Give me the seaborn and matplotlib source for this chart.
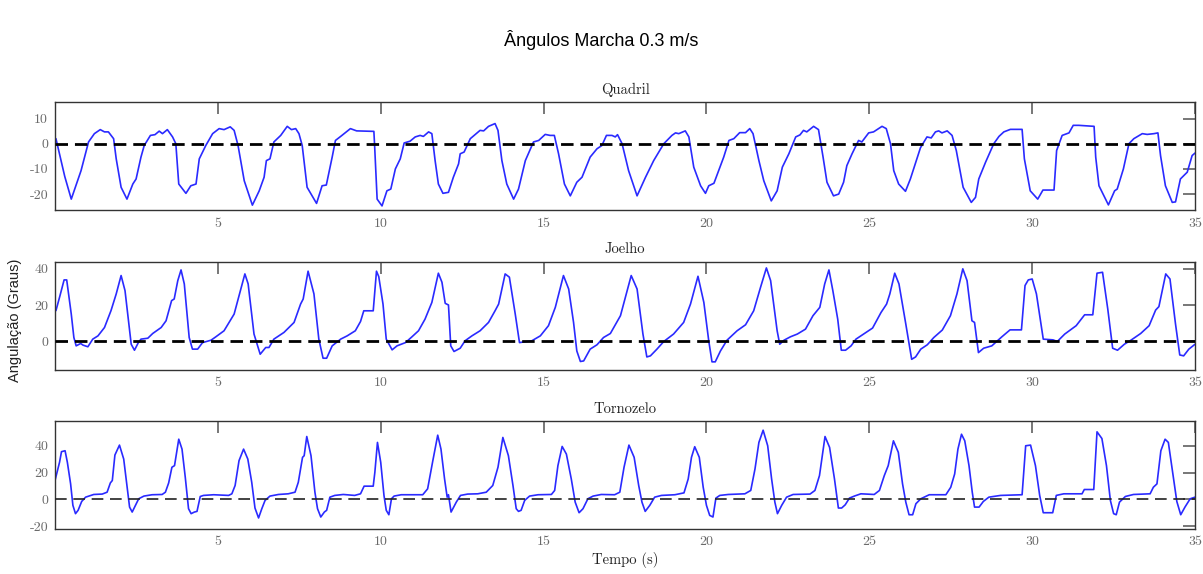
import matplotlib
matplotlib.use('Agg')
import matplotlib.pyplot as plt
import numpy as np
import pandas as pd
import seaborn as sns

# Joint angles (degrees), as (time s, angle) pairs
quadril = [(0.03, 2), (0.3, -13), (0.5, -22), (0.8, -10.7), (1.03, 0.7), (1.21, 4), (1.39, 5.6), (1.52, 4.7),
           (1.64, 4.7), (1.8, 2), (1.88, -6), (2.03, -17.3), (2.21, -22), (2.39, -16), (2.49, -14), (2.64, -5.3),
           (2.74, -0.7), (2.93, 3.3), (3.07, 3.6), (3.2, 5), (3.3, 4), (3.45, 5.6), (3.61, 2.7), (3.71, 0),
           (3.8, -16), (4.02, -19.7), (4.17, -16.7), (4.33, -16), (4.43, -6), (4.63, -0.7), (4.84, 4), (5.04, 6),
           (5.19, 5.6), (5.38, 6.7), (5.5, 5.3), (5.62, -0.7), (5.81, -14.7), (6.06, -24.4), (6.27, -18.7),
           (6.42, -13.3), (6.49, -6.7), (6.6, -6), (6.72, 0.7), (6.93, 3.3), (7.13, 6.9), (7.26, 5.6), (7.39, 6),
           (7.49, 4), (7.59, -0.7), (7.74, -17.3), (8.03, -23.7), (8.2, -16.7), (8.33, -16.4), (8.51, -5.3),
           (8.61, 1.3), (8.77, 2.9), (9.07, 6), (9.26, 5.1), (9.79, 4.9), (9.81, 0), (9.89, -22), (10.04, -24.7),
           (10.19, -18.7), (10.31, -18), (10.45, -10), (10.6, -6), (10.72, 0.3), (10.9, 1), (11.06, 2.7),
           (11.21, 3.3), (11.31, 2.9), (11.47, 4.7), (11.57, 4), (11.67, -6.7), (11.77, -16), (11.91, -19.7),
           (12.08, -19.3), (12.23, -13.3), (12.39, -8), (12.44, -4), (12.56, -3.3), (12.75, 2), (13.05, 5.3),
           (13.16, 5.1), (13.31, 6.9), (13.51, 8), (13.6, 5.3), (13.72, -6.7), (13.87, -16), (14.08, -22),
           (14.23, -18), (14.44, -6.7), (14.69, 0.7), (14.85, 1.3), (15.05, 3.7), (15.2, 3.3), (15.33, 3.3),
           (15.46, -4), (15.64, -16), (15.82, -20.7), (16.02, -15.3), (16.18, -13.3), (16.43, -5.3), (16.64, -2),
           (16.79, -0.7), (16.93, 3.3), (17.1, 3.3), (17.2, 2.7), (17.27, 3.6), (17.41, 0), (17.61, -10.7),
           (17.87, -20.7), (18.13, -13.3), (18.38, -6.7), (18.69, 0), (18.94, 3.3), (19.05, 4.3), (19.15, 4),
           (19.35, 5.1), (19.46, 2.7), (19.61, -9.3), (19.82, -16.7), (19.97, -19.7), (20.07, -16.7),
           (20.23, -15.7), (20.43, -8.7), (20.53, -5.3), (20.69, 1.3), (20.84, 2), (21.02, 4.4), (21.2, 4.4),
           (21.33, 6), (21.43, 4), (21.61, -6.7), (21.76, -14.7), (21.99, -22.7), (22.17, -18.7), (22.33, -9.3),
           (22.53, -4), (22.74, 2.7), (22.87, 3.5), (22.98, 5.3), (23.08, 4.7), (23.29, 6.9), (23.44, 5.6),
           (23.58, -5.3), (23.7, -15.3), (23.9, -20.7), (24.06, -20), (24.21, -15.3), (24.31, -8.7), (24.47, -4),
           (24.67, 1.3), (24.77, 0.7), (24.98, 4.3), (25.13, 4.7), (25.39, 6.9), (25.52, 6), (25.65, 0),
           (25.75, -10.7), (25.9, -16), (26.11, -18.9), (26.26, -14), (26.41, -8), (26.57, -1.6), (26.77, 2.7),
           (26.9, 2.3), (27.03, 4.7), (27.13, 5.1), (27.23, 4.3), (27.39, 5.1), (27.54, 3.3), (27.67, -2.7),
           (27.88, -17.3), (28.13, -23.3), (28.26, -21.3), (28.36, -14), (28.57, -7.3), (28.82, 0), (28.98, 2.9),
           (29.13, 4.7), (29.33, 5.7), (29.69, 5.7), (29.76, -6), (29.94, -18.7), (30.17, -22), (30.33, -18.4),
           (30.67, -18.4), (30.75, -2.7), (30.92, 3.3), (31.13, 4.3), (31.26, 7.3), (31.43, 7.3), (31.9, 6.9),
           (31.95, -5.3), (32.05, -16.7), (32.34, -24.3), (32.53, -18.7), (32.61, -18), (32.8, -10), (32.97, 0),
           (33.12, 2), (33.38, 4), (33.53, 3.7), (33.74, 4), (33.86, 4.3), (33.94, -4.7), (34.09, -16.7),
           (34.3, -23.3), (34.4, -23.1), (34.55, -14), (34.76, -11.3), (34.91, -4.7), (35.0, -3.7)]

joelho = [(0.03, 17), (0.14, 24.3), (0.28, 33.9), (0.36, 33.9), (0.5, 15.1), (0.58, 2.2), (0.65, -2.4),
          (0.79, -1.1), (0.86, -2), (1.01, -2.9), (1.16, 1.3), (1.32, 3.1), (1.52, 7.7), (1.72, 17), (1.88, 26.2),
          (2.03, 36.3), (2.15, 28), (2.21, 18.8), (2.34, -1.5), (2.44, -4.8), (2.56, -0.6), (2.64, 1.3),
          (2.85, 1.8), (3.0, 4.4), (3.26, 7.7), (3.41, 11.4), (3.58, 22.5), (3.66, 23.4), (3.77, 33.5),
          (3.87, 39.4), (3.97, 31.7), (4.12, 2.2), (4.22, -4.2), (4.38, -4.2), (4.53, -0.6), (4.79, 0.7),
          (4.94, 2.6), (5.19, 5.9), (5.5, 15.1), (5.65, 25.2), (5.83, 37.2), (5.93, 31.7), (6.11, 4.1),
          (6.3, -7), (6.47, -3.3), (6.57, -3.3), (6.72, 1.3), (7.03, 5), (7.34, 10.5), (7.54, 20.6),
          (7.62, 23.4), (7.77, 38.7), (7.95, 26.2), (8.1, 1.3), (8.23, -9.2), (8.34, -9.2), (8.51, -2.4),
          (8.77, 1.3), (8.97, 3.1), (9.22, 5.9), (9.38, 11), (9.48, 16.9), (9.77, 16.9), (9.87, 38.7),
          (9.94, 35.7), (10.07, 20.6), (10.17, 1.3), (10.35, -4.6), (10.5, -2.4), (10.76, -0.6), (10.96, 2.6),
          (11.16, 5.9), (11.36, 12.3), (11.57, 21.5), (11.77, 37.6), (11.88, 32.6), (11.98, 21), (12.08, 20.1),
          (12.15, -2.4), (12.25, -5.5), (12.44, -3.7), (12.59, 0.4), (12.8, 3.1), (13.05, 5.9), (13.31, 10.5),
          (13.51, 16.9), (13.62, 20.6), (13.82, 37.2), (13.95, 35.4), (14.13, 15.1), (14.26, -0.6), (14.64, 0.4),
          (14.9, 3.1), (15.15, 8.7), (15.36, 18.8), (15.61, 36.3), (15.77, 28.9), (15.92, 10.5), (16.02, -5.2),
          (16.13, -11), (16.23, -10.7), (16.43, -4.2), (16.64, -1.8), (16.84, 2.2), (17.05, 4.4), (17.36, 14.2),
          (17.69, 36.3), (17.87, 28.9), (18.05, 4.1), (18.17, -8.5), (18.28, -7.9), (18.48, -4.2), (18.69, 0),
          (18.99, 4.1), (19.3, 10.5), (19.51, 20.6), (19.74, 35.9), (19.92, 21.5), (20.07, 0.4), (20.17, -11.2),
          (20.27, -11.2), (20.43, -5.2), (20.63, 0.7), (20.94, 5.9), (21.2, 9.2), (21.45, 16.9), (21.66, 29.8),
          (21.84, 40.5), (21.97, 33.5), (22.17, 5.9), (22.25, -1.5), (22.38, 0.7), (22.58, 2.6), (22.79, 4.1),
          (23.04, 6.8), (23.27, 14.2), (23.48, 18.8), (23.63, 31.7), (23.76, 39.4), (23.88, 28), (24.03, 12.3),
          (24.14, -4.8), (24.27, -4.8), (24.44, -2.4), (24.59, 1.3), (24.9, 5), (25.1, 7.4), (25.36, 16),
          (25.53, 20.6), (25.63, 26.2), (25.78, 37.6), (25.91, 31.7), (26.12, 9.6), (26.3, -9.8), (26.42, -8.5),
          (26.58, -4.2), (26.78, -1.8), (26.98, 2.2), (27.24, 6.3), (27.49, 14.2), (27.69, 26.2), (27.87, 40),
          (28.0, 33.5), (28.15, 11.4), (28.23, 10.5), (28.35, -6.1), (28.51, -3.7), (28.76, -2.4), (29.07, 2.6),
          (29.32, 6.4), (29.67, 6.4), (29.78, 30.8), (29.88, 33.9), (30.0, 34.4), (30.13, 26.2), (30.34, 1.3),
          (30.64, 0.9), (30.77, 0), (31.0, 4.1), (31.35, 8.7), (31.61, 14.7), (31.86, 14.7), (31.99, 37.6),
          (32.16, 38.1), (32.32, 17.9), (32.47, -3.7), (32.62, -4.8), (32.83, -1.5), (33.03, 0.7), (33.33, 4.4),
          (33.59, 8.7), (33.79, 17.3), (33.89, 19.2), (34.1, 37.2), (34.23, 34.4), (34.4, 9.6), (34.53, -7.4),
          (34.65, -7.9), (34.81, -4.2), (35.0, -1.5)]

tornozelo = [(0.0, 14), (0.14, 27.7), (0.2, 35.6), (0.31, 36.3), (0.38, 27.7), (0.48, 11.6), (0.55, -4.4),
             (0.63, -10.6), (0.71, -8.1), (0.82, -1.5), (0.94, 1.7), (1.19, 3.7), (1.45, 4), (1.6, 5.4),
             (1.7, 12.3), (1.76, 14.1), (1.84, 33.1), (1.98, 40.5), (2.11, 30.1), (2.21, 10.4), (2.29, -5.7),
             (2.37, -9.4), (2.47, -4.4), (2.57, 0.5), (2.73, 2.5), (2.98, 3.5), (3.29, 3.7), (3.39, 5.4),
             (3.49, 12.3), (3.59, 24), (3.67, 25.2), (3.8, 44.9), (3.9, 37.5), (4.0, 16.5), (4.1, -6.9),
             (4.18, -10.6), (4.28, -9.4), (4.36, -8.9), (4.46, 2.2), (4.56, 3), (4.87, 3.5), (5.33, 3),
             (5.43, 4.2), (5.53, 10.4), (5.65, 28.9), (5.79, 37.5), (5.92, 30.1), (6.04, 12.8), (6.14, -6.4),
             (6.25, -13.8), (6.35, -6.9), (6.45, -0.7), (6.6, 2.5), (6.86, 3.7), (7.16, 4.2), (7.37, 5.4),
             (7.47, 12.8), (7.6, 31.4), (7.65, 32.6), (7.73, 46.9), (7.86, 32.6), (7.98, 5.4), (8.06, -6.9),
             (8.16, -13.1), (8.27, -9.4), (8.34, -8.1), (8.44, 1.7), (8.59, 3), (8.85, 3.7), (9.2, 3),
             (9.38, 4.2), (9.49, 9.9), (9.77, 9.9), (9.82, 20.2), (9.9, 42.5), (10.0, 27.7), (10.1, 3),
             (10.17, -8.1), (10.25, -11.4), (10.33, 0.5), (10.41, 2.5), (10.63, 3.5), (11.29, 3.5), (11.44, 7.9),
             (11.6, 28.9), (11.75, 47.9), (11.85, 37.5), (11.96, 15.3), (12.04, 1.7), (12.08, 3.5), (12.16, -9.4),
             (12.32, -2), (12.45, 3), (12.67, 4), (12.98, 4.2), (13.24, 5.4), (13.44, 10.4), (13.6, 24),
             (13.75, 46.2), (13.92, 32.6), (14.06, 10.4), (14.16, -6.9), (14.23, -8.9), (14.31, -8.1),
             (14.42, -0.7), (14.57, 2.5), (14.83, 3.5), (15.24, 3.7), (15.34, 6.7), (15.44, 25.2), (15.57, 39.5),
             (15.7, 33.8), (15.85, 15.3), (15.97, -2), (16.09, -9.9), (16.21, -6.9), (16.36, 0.5), (16.52, 2.5),
             (16.77, 3.7), (17.18, 3.5), (17.34, 5.4), (17.47, 24), (17.62, 40.5), (17.78, 31.4), (17.92, 10.4),
             (18.02, -2), (18.12, -8.9), (18.26, -4.4), (18.41, 1.7), (18.62, 3), (19.03, 3.5), (19.31, 4.9),
             (19.44, 15.3), (19.54, 31.4), (19.64, 39.3), (19.78, 31.4), (19.9, 9.1), (20.0, -4.4), (20.1, -11.9),
             (20.2, -13.1), (20.29, 1), (20.41, 3), (20.67, 3.7), (21.18, 4.2), (21.36, 6.7), (21.49, 22.7),
             (21.61, 42.5), (21.74, 51.6), (21.88, 40), (22.0, 15.3), (22.1, -2), (22.18, -10.6), (22.31, -4.4),
             (22.46, 1.7), (22.66, 3.7), (23.18, 4), (23.33, 6.7), (23.47, 17.8), (23.64, 46.9), (23.78, 38.8),
             (23.93, 15.3), (24.05, -6.4), (24.15, -6.4), (24.26, -4), (24.39, 1), (24.54, 2.5), (24.74, 4.2),
             (25.15, 3.7), (25.31, 6.7), (25.46, 17.8), (25.58, 25.2), (25.74, 43.7), (25.89, 35.1),
             (26.02, 11.6), (26.12, -2), (26.22, -11.4), (26.33, -11.4), (26.43, -3.2), (26.58, 0.5),
             (26.84, 3.5), (27.35, 3.5), (27.5, 9.1), (27.62, 19), (27.72, 37.5), (27.83, 48.6), (27.93, 43.7),
             (28.06, 25.2), (28.16, 5.4), (28.23, -5.7), (28.37, -5.7), (28.5, -1.5), (28.67, 1.7), (29.03, 3),
             (29.69, 3.5), (29.8, 40), (29.95, 40.5), (30.1, 25.2), (30.23, 3), (30.34, -9.9), (30.63, -9.9),
             (30.74, 3), (30.97, 4.2), (31.53, 4.2), (31.6, 7.4), (31.89, 7.4), (31.99, 50.4), (32.14, 45.4),
             (32.28, 25.2), (32.4, -0.7), (32.5, -10.6), (32.58, -11.4), (32.68, -2), (32.86, 2.2), (33.11, 3.7),
             (33.62, 4.2), (33.72, 9.1), (33.83, 11.6), (33.95, 36.3), (34.08, 44.9), (34.18, 42.5),
             (34.34, 15.3), (34.44, -1.5), (34.56, -11.4), (34.69, -5.7), (34.85, 0.5), (35.0, 1.7)]

joints = ["Quadril", "Joelho", "Tornozelo"]
series = [quadril, joelho, tornozelo]
ylims = [(-26.5, 16.5), (-15.6, 44), (-22.2, 58.5)]
yticks = [[-20, -10, 0, 10], [0, 20, 40], [-20, 0, 20, 40]]
xticks = [5, 10, 15, 20, 25, 30, 35]

sns.set_style("white")
plt.rcParams['font.family'] = ['cmr10', 'DejaVu Serif']
plt.rcParams['axes.unicode_minus'] = False
plt.rcParams['text.color'] = 'black'
plt.rcParams['axes.labelcolor'] = 'black'

fig, axes = plt.subplots(3, 1, figsize=(12.03, 5.74), dpi=100)
fig.subplots_adjust(left=0.0457, right=0.9934, bottom=0.078, top=0.822, hspace=0.472)

for i, ax in enumerate(axes):
    df = pd.DataFrame(series[i], columns=["Tempo", "Angulo"])
    sns.lineplot(data=df, x="Tempo", y="Angulo", ax=ax, color="#2a2aff", lw=1.2,
                 estimator=None, sort=False)
    if i < 2:
        ax.axhline(0, color="black", ls="--", lw=2.0, dashes=(4.5, 2.5), zorder=3)
    else:
        ax.axhline(0, color="#222222", ls="--", lw=1.2, dashes=(7, 4), zorder=3)
    ax.set_xlim(0, 35)
    ax.set_ylim(*ylims[i])
    ax.set_xticks(xticks)
    ax.set_yticks(yticks[i])
    ax.set_title(joints[i], fontsize=10.5, pad=6, color="#222222")
    ax.set_xlabel("")
    ax.set_ylabel("")
    ax.tick_params(direction="in", length=8.5, width=1.4, color="#777777", labelcolor="#6a6a6a",
                   labelsize=10, top=True, right=True, pad=5)
    for s in ax.spines.values():
        s.set_color("#333333")
        s.set_linewidth(1.0)

axes[2].set_xlabel("Tempo (s)", fontsize=10.5, labelpad=3, color="#222222")
fig.suptitle("Ângulos Marcha 0.3 m/s", fontsize=13, y=0.948, family="Liberation Sans", color="black")
fig.text(0.0125, 0.4425, "Angulação (Graus)", rotation=90, va="center", ha="center",
         fontsize=10.5, family="Liberation Sans", color="#222222")

fig.savefig("out.png", dpi=100)
